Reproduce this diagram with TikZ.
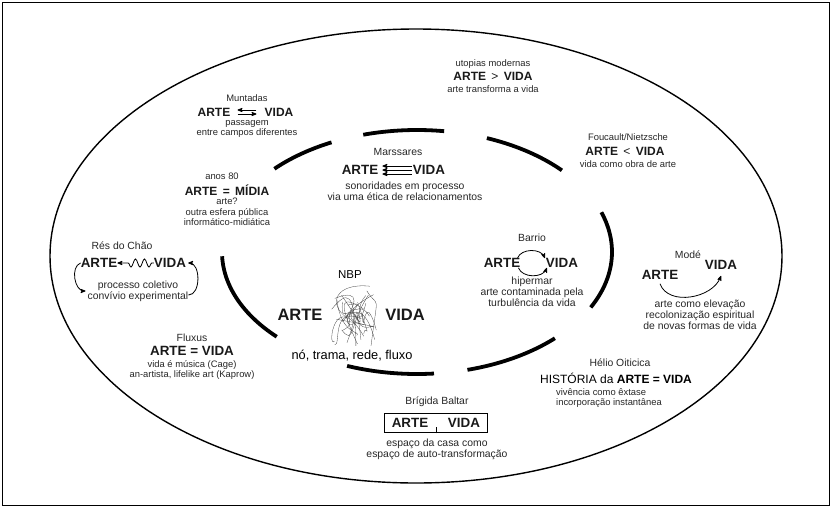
\documentclass[tikz,border=0pt]{standalone}
\usepackage{fontspec}
\setmainfont{Liberation Sans}
\usetikzlibrary{arrows,positioning,fit,decorations.pathmorphing}

\begin{document}
\begin{tikzpicture}
	[x=1pt,y=-1pt,>=stealth',node distance=2pt,
	nome/.style={font=\fontsize{9.4}{10.4}\selectfont,text=black!85,inner sep=0pt},
	nomeg/.style={nome,font=\fontsize{10.4}{11.2}\selectfont},
	desc/.style={nome,align=center},
	descg/.style={nomeg,align=center},
	av/.style={font=\fontsize{12}{13}\selectfont\bfseries,text=black!90,inner sep=0pt},
	avm/.style={av,font=\fontsize{13.4}{14}\selectfont\bfseries},
	avgrande/.style={av,font=\fontsize{16.5}{17}\selectfont\bfseries},
	anel/.style={line width=3.8pt},
	seta/.style={->,line width=0.8pt}]

	\useasboundingbox (0,0) rectangle (831,507);
	\draw [line width=0.8pt] (2,2) rectangle (829,505);
	\draw [line width=1.4pt] (416,256) ellipse [x radius=366,y radius=227];
	% anel interno
	\foreach \a/\b in {116/137,82/106,42/69,-27/19,-75/-45,-111/-85,182/224}
		\draw [anel] plot [domain=\a:\b,samples=30] ({417+195*cos(\x)},{252-122*sin(\x)});

	% Muntadas
	\node [nome](munt) at (247,98) {Muntadas};
	\node [av](muntA) at (214,112) {ARTE};
	\node [av](muntV) at (279,112) {VIDA};
	\draw [seta,shorten <=8pt,shorten >=7pt] ([yshift=2pt]muntV.west) -- ([yshift=2pt]muntA.east);
	\draw [seta,shorten <=7pt,shorten >=8pt] ([yshift=-2pt]muntA.east) -- ([yshift=-2pt]muntV.west);
	\node [desc](muntD) at (247,129) {passagem\\entre campos diferentes};

	% utopias modernas
	\node [nome](utop) at (493,64) {utopias modernas};
	\node [av](utopL) at (493,76) {ARTE {\mdseries\,>\,} VIDA};
	\node [nome](utopD) at (493,89) {arte transforma a vida};

	% Foucault/Nietzsche
	\node [nome](fouc) at (628,137) {Foucault/Nietzsche};
	\node [av](foucL) at (625,151) {ARTE {\mdseries\,<\,} VIDA};
	\node [nome](foucD) at (628,164) {vida como obra de arte};

	% Marssares
	\node [nomeg](mars) at (398,152) {Marssares};
	\node [avm](marsA) at (360,170) {ARTE};
	\node [avm](marsV) at (429,170) {VIDA};
	\foreach \d in {-4,0,4}
		\draw [seta,shorten <=1pt,shorten >=4pt] ([yshift=\d pt]marsV.west) -- ([yshift=\d pt]marsA.east);
	\node [descg](marsD) at (405,191) {sonoridades em processo\\via uma ética de relacionamentos};

	% anos 80
	\node [nome](anos) at (222,176) {anos 80};
	\node [av](anosL) at (227,190) {ARTE \,=\, MÍDIA};
	\node [desc](anosD) at (227,212) {arte?\\outra esfera pública\\informático-midiática};

	% Res do Chao
	\node [nomeg](res) at (122,246) {Rés do Chão};
	\node [avm](resA) at (99,263) {ARTE};
	\node [avm](resV) at (170,263) {VIDA};
	\draw [seta,decorate,decoration={snake,amplitude=4pt,segment length=9pt,pre length=2pt,post length=9pt}] (resV.west) -- (resA.east);
	\node [descg](resD) at (138,291) {processo coletivo\\convívio experimental};
	\draw [seta] (resA.west) to [out=200,in=180] ([xshift=-2pt]resD.west);
	\draw [seta] ([yshift=-4pt]resD.east) to [out=0,in=0] ([xshift=2pt]resV.east);

	% Fluxus
	\node [nomeg](flux) at (192,338) {Fluxus};
	\node [avm](fluxL) at (192,351) {ARTE = VIDA};
	\node [desc](fluxD) at (192,370) {vida é música (Cage)\\an-artista, lifelike art (Kaprow)};

	% NBP
	\node [font=\fontsize{11.5}{12}\selectfont,inner sep=0pt](nbp) at (350,275) {NBP};
	\node [avgrande](nbpA) at (300,315) {ARTE};
	\node [avgrande](nbpV) at (405,315) {VIDA};
	\pgfmathsetseed{7}
	\foreach \i in {1,...,20}
		\draw [line width=0.3pt,black!75] ({353+22*rand},{316+30*rand}) .. controls ({353+28*rand},{316+34*rand}) and ({353+28*rand},{316+34*rand}) .. ({353+24*rand},{316+32*rand});
	\node [font=\fontsize{12.8}{13}\selectfont,inner sep=0pt](nbpD) at (352,356) {nó, trama, rede, fluxo};

	% Barrio
	\node [nomeg](barr) at (532,238) {Barrio};
	\node [avm](barA) at (502,263) {ARTE};
	\node [avm](barV) at (562,263) {VIDA};
	\draw [seta] ([xshift=-3pt]barA.north east) to [out=70,in=110] ([xshift=-1pt]barV.north west);
	\draw [seta] ([xshift=-2pt]barA.south east) to [out=-70,in=-110] ([xshift=1pt]barV.south west);
	\node [descg](barD) at (532,292) {hipermar\\arte contaminada pela\\turbulência da vida};

	% Mode
	\node [nomeg](mode) at (688,255) {Modé};
	\node [avm](modA) at (660,275) {ARTE};
	\node [avm](modV) at (721,265) {VIDA};
	\draw [seta] ([yshift=-4pt]modA.south) to [out=-70,in=-110] ([yshift=-6pt]modV.south);
	\node [descg](modD) at (700,315) {arte como elevação\\recolonização espiritual\\de novas formas de vida};

	% Helio Oiticica
	\node [nomeg](helio) at (620,363) {Hélio Oiticica};
	\node [inner sep=0pt](helioL) at (616,378) {\fontsize{12}{13}\selectfont HISTÓRIA da \textbf{ARTE = VIDA}};
	\node [nome,align=left,anchor=north west](helioD) at (556,388) {vivência como êxtase\\incorporação instantânea};

	% Brigida Baltar
	\node [nomeg](brig) at (437,402) {Brígida Baltar};
	\node [avm](briA) at (410,423) {ARTE};
	\node [avm](briV) at (464,423) {VIDA};
	\node [draw,line width=1pt,inner xsep=7pt,inner ysep=5pt,fit=(briA)(briV)](briBox) {};
	\draw [line width=0.6pt] (briBox.south) -- ++(0,-6);
	\node [descg](briD) at (437,449) {espaço da casa como\\espaço de auto-transformação};
\end{tikzpicture}
\end{document}
